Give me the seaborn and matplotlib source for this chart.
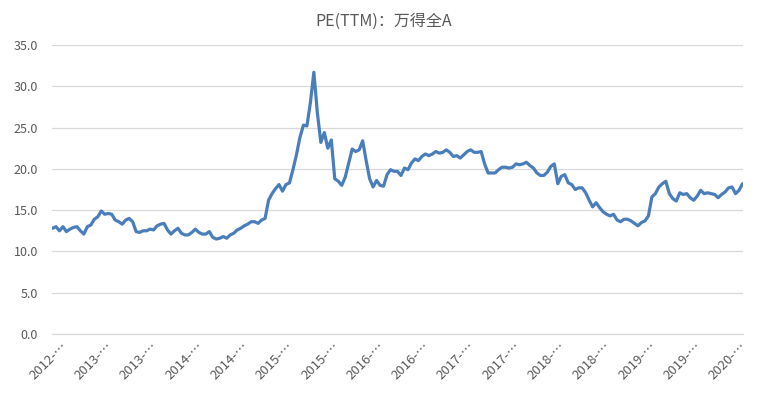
import numpy as np
import pandas as pd
import matplotlib
matplotlib.use("Agg")
import matplotlib.pyplot as plt
import matplotlib.transforms as mtransforms
import seaborn as sns

title = "PE(TTM)：万得全A"

pe_values = [
    12.8, 13.0, 12.5, 13.0, 12.4, 12.7, 12.9, 13.0, 12.5, 12.1,
    13.0, 13.2, 13.9, 14.2, 14.9, 14.5, 14.6, 14.5, 13.8, 13.6,
    13.3, 13.8, 14.0, 13.6, 12.4, 12.3, 12.5, 12.5, 12.7, 12.6,
    13.1, 13.3, 13.4, 12.6, 12.1, 12.5, 12.8, 12.2, 12.0, 12.0,
    12.3, 12.7, 12.3, 12.1, 12.1, 12.4, 11.7, 11.5, 11.6, 11.8,
    11.6, 12.0, 12.2, 12.6, 12.8, 13.1, 13.3, 13.6, 13.6, 13.4,
    13.8, 14.0, 16.2, 17.0, 17.6, 18.1, 17.3, 18.1, 18.3, 19.9,
    21.7, 23.8, 25.3, 25.2, 28.0, 31.7, 26.8, 23.2, 24.4, 22.5,
    23.5, 18.8, 18.5, 18.0, 19.0, 20.7, 22.4, 22.1, 22.3, 23.4,
    21.0, 18.8, 17.8, 18.6, 18.0, 17.9, 19.3, 19.9, 19.7, 19.7,
    19.2, 20.1, 19.9, 20.7, 21.2, 21.0, 21.5, 21.8, 21.6, 21.8,
    22.1, 21.9, 22.0, 22.3, 22.0, 21.5, 21.6, 21.3, 21.7, 22.1,
    22.3, 22.0, 22.0, 22.1, 20.6, 19.5, 19.5, 19.5, 19.9, 20.2,
    20.2, 20.1, 20.2, 20.6, 20.5, 20.6, 20.8, 20.4, 20.1, 19.5,
    19.2, 19.2, 19.6, 20.3, 20.6, 18.2, 19.1, 19.3, 18.3, 18.1,
    17.5, 17.7, 17.7, 17.1, 16.2, 15.4, 15.9, 15.3, 14.8, 14.5,
    14.3, 14.5, 13.8, 13.6, 13.9, 13.9, 13.7, 13.4, 13.1, 13.5,
    13.7, 14.3, 16.6, 17.0, 17.8, 18.2, 18.5, 17.0, 16.4, 16.1,
    17.1, 16.9, 17.0, 16.5, 16.2, 16.7, 17.4, 17.0, 17.1, 17.0,
    16.9, 16.5, 16.9, 17.2, 17.7, 17.8, 17.0, 17.4, 18.2,
]

start_date = "2012-07-20"
dates = pd.date_range(start_date, periods=len(pe_values), freq="14D")

tick_dates = pd.date_range(start_date, periods=16, freq="182D")
tick_labels = ["2012-…", "2013-…", "2013-…", "2014-…", "2014-…", "2015-…",
               "2015-…", "2016-…", "2016-…", "2017-…", "2017-…", "2018-…",
               "2018-…", "2019-…", "2019-…", "2020-…"]
y_ticks = [0, 5, 10, 15, 20, 25, 30, 35]

df = pd.DataFrame({"date": dates, "pe": pe_values})

sns.set_theme(style="white")
plt.rcParams["font.family"] = ["Noto Sans CJK SC", "DejaVu Sans"]

W, H = 767, 397
fig = plt.figure(figsize=(W / 100, H / 100), dpi=100)
ax = fig.add_axes([52 / W, 1 - 334 / H, 691 / W, 289 / H])

sns.lineplot(data=df, x="date", y="pe", ax=ax, color="#4A7EBB", linewidth=2.3)

ax.set_xlim(dates[0] - pd.Timedelta(days=2), dates[-1] + pd.Timedelta(days=2))
ax.set_ylim(0, 35)
ax.set_yticks(y_ticks)
ax.set_yticklabels([f"{v:.1f}" for v in y_ticks])
ax.set_xticks(tick_dates)
ax.set_xticklabels(tick_labels, rotation=45, ha="right", rotation_mode="anchor")
ax.set_xlabel("")
ax.set_ylabel("")

ax.yaxis.grid(True, color="#d9d9d9", linewidth=0.9)
ax.xaxis.grid(False)
for s in ["top", "right", "left"]:
    ax.spines[s].set_visible(False)
ax.spines["bottom"].set_color("#d9d9d9")
ax.spines["bottom"].set_linewidth(0.9)
ax.tick_params(axis="y", length=0, pad=10, labelsize=9, labelcolor="#595959")
ax.tick_params(axis="x", length=0, pad=4, labelsize=9.5, labelcolor="#595959")

shift = mtransforms.ScaledTranslation(8 / 100, 0, fig.dpi_scale_trans)
for lab in ax.get_xticklabels():
    lab.set_transform(lab.get_transform() + shift)

fig.text(0.5, 1 - 21 / H, title, ha="center", va="center", fontsize=11.5, color="#595959")

fig.savefig("out.png", dpi=100)
